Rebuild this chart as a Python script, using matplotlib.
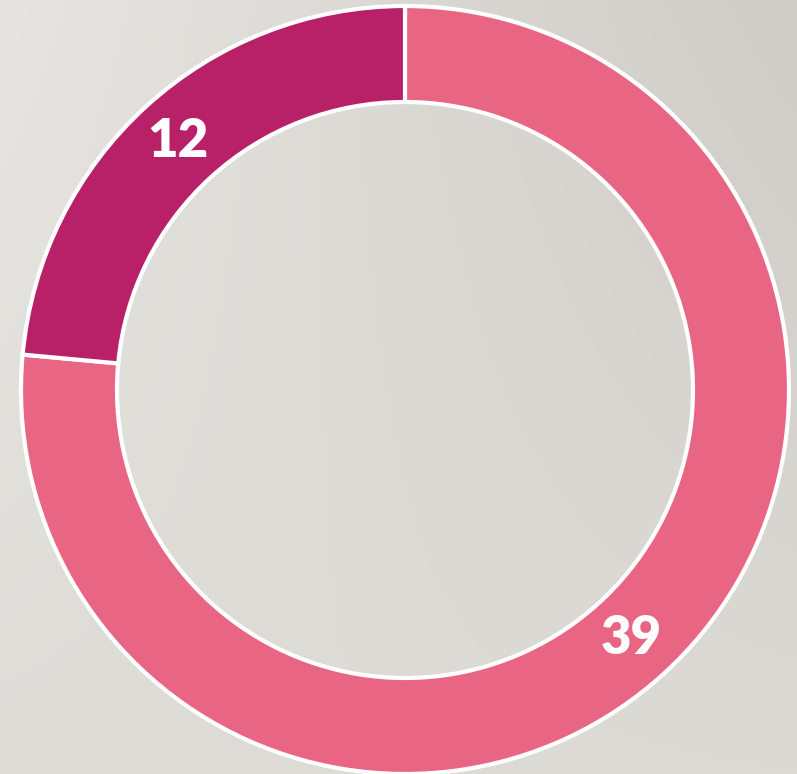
import numpy as np
import matplotlib
matplotlib.use('Agg')
import matplotlib.pyplot as plt

values = [39, 12]
colors = ['#E86683', '#B82068']

# background corner colours (top-left, top-right, bottom-left, bottom-right)
bg_tl = np.array([231, 229, 225]) / 255
bg_tr = np.array([207, 204, 199]) / 255
bg_bl = np.array([222, 220, 215]) / 255
bg_br = np.array([220, 218, 212]) / 255

W, H = 797, 774
fig = plt.figure(figsize=(W / 100, H / 100), dpi=100)

bg = fig.add_axes([0, 0, 1, 1])
u = np.linspace(0, 1, 200)[None, :, None]
v = np.linspace(0, 1, 200)[:, None, None]
img = (bg_tl * (1 - u) * (1 - v) + bg_tr * u * (1 - v)
       + bg_bl * (1 - u) * v + bg_br * u * v)
bg.imshow(img, aspect='auto', extent=[0, 1, 0, 1], interpolation='bilinear')
bg.axis('off')

cx, cy, r = 405, 390, 384
ax = fig.add_axes([(cx - r) / W, (H - cy - r) / H, 2 * r / W, 2 * r / H])
ax.set_facecolor('none')
wedges, _ = ax.pie(values, colors=colors, startangle=90, counterclock=False,
                   radius=1.0,
                   wedgeprops=dict(width=0.25, edgecolor='white', linewidth=3))
ax.set_xlim(-1.0, 1.0)
ax.set_ylim(-1.0, 1.0)
ax.set_aspect('equal')
ax.axis('off')

for w, val in zip(wedges, values):
    ang = np.deg2rad((w.theta1 + w.theta2) / 2)
    ax.text(0.876 * np.cos(ang), 0.876 * np.sin(ang), str(val),
            ha='center', va='center', color='white', fontsize=38,
            fontweight='heavy', family='Lato')

fig.savefig('out.png', dpi=100)
